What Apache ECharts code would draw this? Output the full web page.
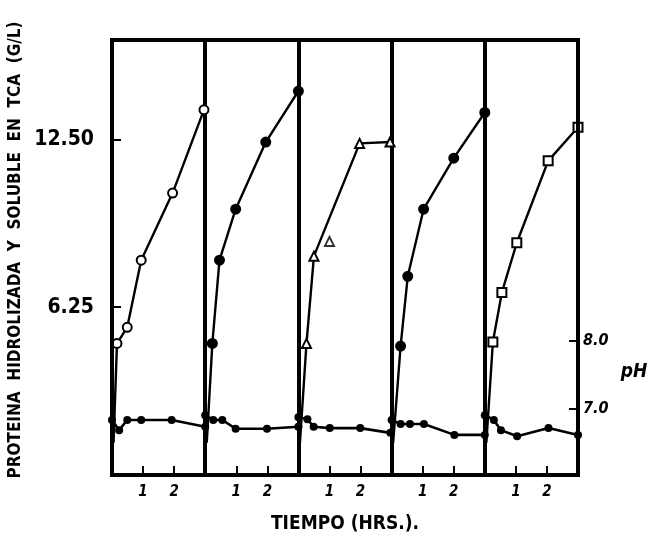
<!DOCTYPE html>
<html>
<head>
<meta charset="utf-8">
<script src="https://cdn.jsdelivr.net/npm/echarts@6/dist/echarts.min.js"></script>
<style>html,body{margin:0;padding:0;background:#fff}#c{width:654px;height:536px}</style>
</head>
<body>
<div id="c"></div>
<script>
// ---- data (hours within each 3 h panel) ----
const panelHours = 3;
// protein (g/L)
const horasP1 = [0.05, 0.16, 0.49, 0.94, 1.95, 2.96];
const protP1  = [1.2, 4.9, 5.5, 8.0, 10.5, 13.6];
const horasP2 = [0.05, 0.23, 0.46, 0.98, 1.95, 3.0];
const protP2  = [1.2, 4.9, 8.0, 9.9, 12.4, 14.3];
const horasP3 = [0.05, 0.26, 0.5, 1.97, 2.95];
const protP3  = [1.2, 4.9, 8.15, 12.35, 12.4];
const horasP3Aislado = [1.0];
const protP3Aislado  = [8.7];
const horasP4 = [0.05, 0.29, 0.52, 1.03, 2.0, 3.0];
const protP4  = [1.2, 4.8, 7.4, 9.9, 11.8, 13.5];
const horasP5 = [0.05, 0.26, 0.55, 1.03, 2.04, 3.0];
const protP5  = [1.2, 4.95, 6.8, 8.65, 11.7, 12.95];
// pH
const horasPH1 = [0, 0.23, 0.49, 0.94, 1.92, 3.0];
const pH1      = [6.84, 6.69, 6.84, 6.84, 6.84, 6.74];
const horasPH2 = [0, 0.26, 0.55, 0.98, 1.99, 3.0];
const pH2      = [6.91, 6.84, 6.84, 6.71, 6.71, 6.74];
const horasPH3 = [0, 0.29, 0.49, 1.01, 1.99, 2.96];
const pH3      = [6.88, 6.85, 6.74, 6.72, 6.72, 6.65];
const horasPH4 = [0, 0.29, 0.59, 1.04, 2.02, 3.0];
const pH4      = [6.84, 6.78, 6.78, 6.78, 6.62, 6.62];
const horasPH5 = [0, 0.29, 0.52, 1.04, 2.05, 3.0];
const pH5      = [6.91, 6.84, 6.69, 6.60, 6.72, 6.62];
// tick labels
const xTickHours = [1, 2];
const protTicks = [6.25, 12.5];
const pHTicks = [7, 8];

const FONT = "'Liberation Sans Narrow','DejaVu Sans Condensed',sans-serif";

function pts(hours, vals, panel, hideFirst) {
  return hours.map((h, i) => {
    const item = { value: [h + panel * panelHours, vals[i]] };
    if (hideFirst && i === 0) item.symbol = 'none';
    return item;
  });
}
const xTicks = [];
for (let p = 0; p < 5; p++) xTickHours.forEach(h => xTicks.push(p * panelHours + h));

function protSeries(data, symbol, filled) {
  return {
    type: 'line', yAxisIndex: 0, data: data, symbol: symbol, symbolSize: 9,
    showAllSymbol: true, z: 5,
    lineStyle: { color: '#000', width: 2.4 },
    itemStyle: { color: filled ? '#000' : '#fff', borderColor: '#000', borderWidth: 2 }
  };
}
function phSeries(data) {
  return {
    type: 'line', yAxisIndex: 1, data: data, symbol: 'circle', symbolSize: 8,
    showAllSymbol: true, z: 4,
    lineStyle: { color: '#000', width: 2.6 },
    itemStyle: { color: '#000', borderColor: '#000', borderWidth: 0 }
  };
}

const series = [
  protSeries(pts(horasP1, protP1, 0, true), 'circle', false),
  protSeries(pts(horasP2, protP2, 1, true), 'circle', true),
  protSeries(pts(horasP3, protP3, 2, true), 'triangle', false),
  protSeries(pts(horasP4, protP4, 3, true), 'circle', true),
  protSeries(pts(horasP5, protP5, 4, true), 'rect', false),
  {
    type: 'scatter', yAxisIndex: 0, data: pts(horasP3Aislado, protP3Aislado, 2, false),
    symbol: 'triangle', symbolSize: 9, z: 5,
    itemStyle: { color: '#fff', borderColor: '#000', borderWidth: 2 }
  },
  phSeries(pts(horasPH1, pH1, 0, false)),
  phSeries(pts(horasPH2, pH2, 1, false)),
  phSeries(pts(horasPH3, pH3, 2, false)),
  phSeries(pts(horasPH4, pH4, 3, false)),
  phSeries(pts(horasPH5, pH5, 4, false)),
  {
    type: 'line', data: [], z: 6,
    markLine: {
      silent: true, symbol: ['none', 'none'], label: { show: false },
      lineStyle: { color: '#000', width: 4, type: 'solid' },
      data: [1, 2, 3, 4].map(p => ({ xAxis: p * panelHours }))
    }
  }
];

const chart = echarts.init(document.getElementById('c'), null, { renderer: 'canvas' });
chart.setOption({
  backgroundColor: '#fff',
  animation: false,
  grid: { left: 112, right: 76, top: 40, bottom: 61, show: true, borderColor: '#000', borderWidth: 4, backgroundColor: 'transparent', z: 10 },
  xAxis: {
    type: 'value', min: 0, max: 5 * panelHours,
    splitLine: { show: false }, axisLine: { show: false },
    axisTick: { show: true, inside: true, length: 9, lineStyle: { color: '#000', width: 2 }, customValues: xTicks },
    axisLabel: {
      customValues: xTicks, margin: 10,
      formatter: v => String(Math.round(v) % panelHours),
      color: '#000', fontFamily: FONT, fontWeight: 'bold', fontStyle: 'italic', fontSize: 15
    }
  },
  yAxis: [
    {
      type: 'value', min: 0, max: 16.2, position: 'left',
      splitLine: { show: false }, axisLine: { show: false },
      axisTick: { show: true, inside: true, length: 9, lineStyle: { color: '#000', width: 2 }, customValues: protTicks },
      axisLabel: {
        customValues: protTicks, margin: 18,
        formatter: v => v.toFixed(2),
        color: '#000', fontFamily: FONT, fontWeight: 'bold', fontSize: 21
      }
    },
    {
      type: 'value', min: 6.03, max: 12.43, position: 'right',
      splitLine: { show: false }, axisLine: { show: false },
      axisTick: { show: true, inside: true, length: 9, lineStyle: { color: '#000', width: 2 }, customValues: pHTicks },
      axisLabel: {
        customValues: pHTicks, margin: 5,
        formatter: v => v.toFixed(1),
        color: '#000', fontFamily: FONT, fontWeight: 'bold', fontStyle: 'italic', fontSize: 16
      }
    }
  ],
  graphic: [
    {
      type: 'text', x: 16, y: 250, rotation: Math.PI / 2,
      style: {
        text: 'PROTEINA  HIDROLIZADA  Y  SOLUBLE  EN  TCA  (G/L)',
        fill: '#000', font: 'bold 17px ' + FONT, align: 'center', verticalAlign: 'middle'
      }
    },
    {
      type: 'text', x: 345, y: 524,
      style: { text: 'TIEMPO (HRS.).', fill: '#000', font: 'bold 19px ' + FONT, align: 'center', verticalAlign: 'middle' }
    },
    {
      type: 'text', x: 634, y: 372,
      style: { text: 'pH', fill: '#000', font: 'italic bold 19px ' + FONT, align: 'center', verticalAlign: 'middle' }
    }
  ],
  series: series
});
</script>
</body>
</html>
